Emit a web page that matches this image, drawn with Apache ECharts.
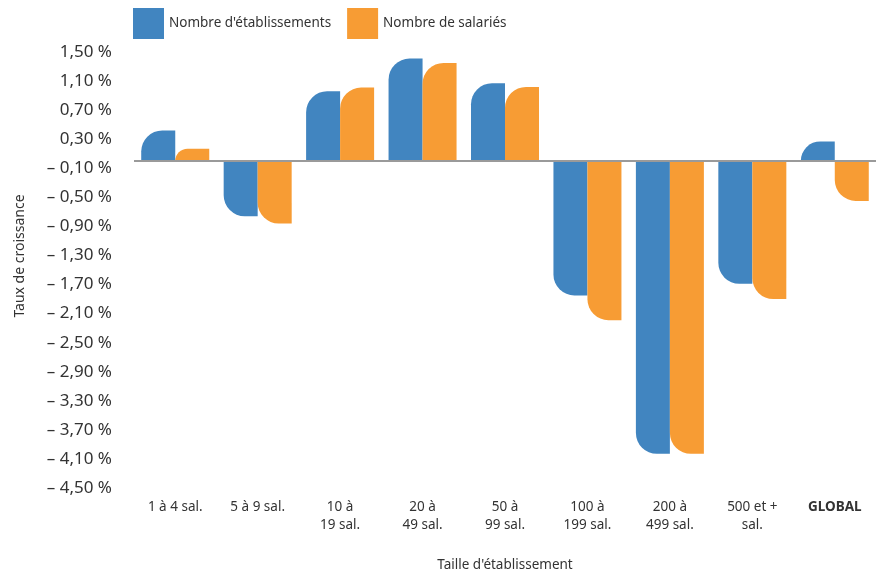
<!DOCTYPE html>
<html>
<head>
<meta charset="utf-8">
<script src="https://cdn.jsdelivr.net/npm/echarts@6/dist/echarts.min.js"></script>
<style>
html,body{margin:0;padding:0;background:#fff;}
#chart{width:882px;height:574px;}
</style>
</head>
<body>
<div id="chart"></div>
<script>
const categories = ['1 à 4 sal.', '5 à 9 sal.', '10 à\n19 sal.', '20 à\n49 sal.', '50 à\n99 sal.', '100 à\n199 sal.', '200 à\n499 sal.', '500 et +\nsal.', 'GLOBAL'];
const seriesNames = ["Nombre d'établissements", 'Nombre de salariés'];
const etablissements = [0.42, -0.76, 0.96, 1.41, 1.07, -1.85, -4.03, -1.69, 0.27];
const salaries = [0.17, -0.86, 1.01, 1.35, 1.02, -2.19, -4.03, -1.90, -0.55];
const yTickValues = [1.5, 1.1, 0.7, 0.3, -0.1, -0.5, -0.9, -1.3, -1.7, -2.1, -2.5, -2.9, -3.3, -3.7, -4.1, -4.5];
const yTickLabels = ['1,50 %', '1,10 %', '0,70 %', '0,30 %', '– 0,10 %', '– 0,50 %', '– 0,90 %', '– 1,30 %', '– 1,70 %', '– 2,10 %', '– 2,50 %', '– 2,90 %', '– 3,30 %', '– 3,70 %', '– 4,10 %', '– 4,50 %'];
const xTitle = "Taille d'établissement";
const yTitle = 'Taux de croissance';

const FONT = '"Noto Sans", "Open Sans", sans-serif';
const colors = ['#4185c0', '#f79c34'];
const R = 21;

function toItems(arr) {
  return arr.map(v => ({
    value: v,
    itemStyle: { borderRadius: v >= 0 ? [R, 0, 0, 0] : [0, 0, 0, R] }
  }));
}

const chart = echarts.init(document.getElementById('chart'), null, { renderer: 'canvas' });
chart.setOption({
  animation: false,
  color: colors,
  textStyle: { fontFamily: FONT },
  legend: {
    left: 133, top: 8, padding: 0,
    itemWidth: 31, itemHeight: 31, itemGap: 16,
    icon: 'rect',
    textStyle: { fontSize: 13.5, color: '#333', fontFamily: FONT },
    data: seriesNames
  },
  grid: { left: 134, right: 6, top: 52, bottom: 86, containLabel: false, outerBoundsMode: 'none' },
  xAxis: {
    type: 'category',
    data: categories,
    axisLine: { show: false, onZero: false },
    axisTick: { show: false },
    axisLabel: {
      interval: 0, margin: 10, fontSize: 13.5, lineHeight: 18, color: '#333', fontFamily: FONT,
      formatter: function (v) { return v === 'GLOBAL' ? '{b|' + v + '}' : v; },
      rich: { b: { fontWeight: 'bold', fontSize: 13.5, color: '#333', fontFamily: FONT } }
    },
    name: xTitle,
    nameLocation: 'middle',
    nameGap: 70,
    nameTextStyle: { fontSize: 13.5, color: '#333', fontFamily: FONT }
  },
  yAxis: {
    type: 'value',
    min: -4.5, max: 1.5,
    axisLine: { show: false },
    axisTick: { show: false },
    splitLine: { show: false },
    axisLabel: {
      customValues: yTickValues,
      margin: 22, fontSize: 17, color: '#333', fontFamily: FONT,
      formatter: function (v) {
        const i = yTickValues.findIndex(t => Math.abs(t - v) < 1e-6);
        return i >= 0 ? yTickLabels[i] : '';
      }
    }
  },
  graphic: [{
    type: 'text',
    x: 20, y: 256,
    rotation: Math.PI / 2,
    style: { text: yTitle, fontSize: 14, fill: '#333', fontFamily: FONT, align: 'center', verticalAlign: 'middle' }
  }],
  series: [
    {
      name: seriesNames[0], type: 'bar', data: toItems(etablissements),
      barWidth: 34, barGap: '0%',
      markLine: {
        silent: true, symbol: 'none',
        label: { show: false },
        lineStyle: { color: '#9a9a9a', width: 2, type: 'solid' },
        data: [{ yAxis: 0 }]
      }
    },
    { name: seriesNames[1], type: 'bar', data: toItems(salaries), barWidth: 34, barGap: '0%' }
  ]
});
</script>
</body>
</html>
